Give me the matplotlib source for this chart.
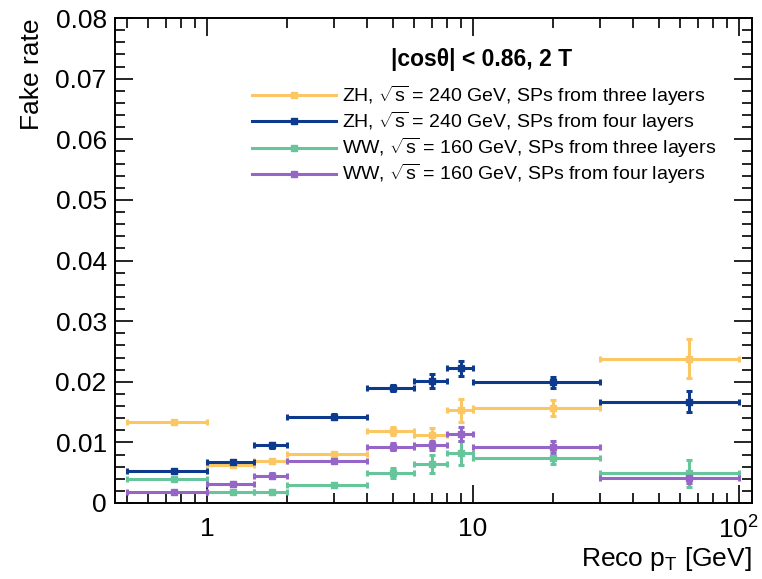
import numpy as np
import matplotlib
matplotlib.use("Agg")
import matplotlib.pyplot as plt
from matplotlib.lines import Line2D
from matplotlib.ticker import FixedLocator, FixedFormatter, MultipleLocator, LogLocator, NullFormatter

plt.rcParams['font.family'] = ['Liberation Sans', 'DejaVu Sans']
plt.rcParams['mathtext.fontset'] = 'custom'
plt.rcParams['mathtext.rm'] = 'Liberation Sans'
plt.rcParams['mathtext.it'] = 'Liberation Sans:italic'

# pT bin edges [GeV]
bin_edges = [0.5, 1, 1.5, 2, 4, 6, 8, 10, 30, 100]

# fake rate per bin and its statistical uncertainty
zh_three = [0.0133, 0.0063, 0.0070, 0.0081, 0.0119, 0.0112, 0.0153, 0.0157, 0.0238]
zh_three_err = [0.0003, 0.0003, 0.0003, 0.0003, 0.0007, 0.0012, 0.0019, 0.0013, 0.0032]
zh_four = [0.0052, 0.0068, 0.0095, 0.0142, 0.0189, 0.0201, 0.0222, 0.0199, 0.0167]
zh_four_err = [0.0003, 0.0003, 0.0004, 0.0004, 0.0005, 0.0011, 0.0012, 0.0009, 0.0017]
ww_three = [0.0040, 0.0018, 0.0018, 0.0030, 0.0050, 0.0064, 0.0082, 0.0075, 0.0049]
ww_three_err = [0.0002, 0.0002, 0.0003, 0.0003, 0.0008, 0.0015, 0.0020, 0.0010, 0.0022]
ww_four = [0.0018, 0.0031, 0.0045, 0.0070, 0.0093, 0.0095, 0.0114, 0.0093, 0.0041]
ww_four_err = [0.0002, 0.0003, 0.0004, 0.0003, 0.0006, 0.0008, 0.0011, 0.0010, 0.0008]

labels = [
    r"ZH, $\sqrt{\mathrm{s}}$ = 240 GeV, SPs from three layers",
    r"ZH, $\sqrt{\mathrm{s}}$ = 240 GeV, SPs from four layers",
    r"WW, $\sqrt{\mathrm{s}}$ = 160 GeV, SPs from three layers",
    r"WW, $\sqrt{\mathrm{s}}$ = 160 GeV, SPs from four layers",
]
colors = ["#fbc765", "#0d3a8c", "#66c59a", "#9566c8"]
series = [(zh_three, zh_three_err), (zh_four, zh_four_err),
          (ww_three, ww_three_err), (ww_four, ww_four_err)]

edges = np.array(bin_edges, dtype=float)
lo, hi = edges[:-1], edges[1:]
centers = 0.5 * (lo + hi)

fig = plt.figure(figsize=(7.62, 5.79), dpi=100)
ax = fig.add_axes([115 / 762, 1 - 503 / 579, (752 - 115) / 762, (503 - 18) / 579])

handles = []
for (vals, errs), col, lab in zip(series, colors, labels):
    ax.errorbar(centers, vals, xerr=[centers - lo, hi - centers], yerr=errs,
                fmt='s', color=col, ecolor=col, markersize=5, elinewidth=2.2,
                capsize=2.5, capthick=2.2, zorder=3)
    handles.append(Line2D([], [], color=col, lw=2.2, marker='s', markersize=5))

ax.set_xscale('log')
ax.set_xlim(0.45, 112)
ax.set_ylim(0, 0.08)

ax.xaxis.set_major_locator(FixedLocator([1, 10, 100]))
ax.xaxis.set_major_formatter(FixedFormatter(["1", "10", r"$10^2$"]))
ax.xaxis.set_minor_locator(LogLocator(base=10, subs=np.arange(2, 10)))
ax.xaxis.set_minor_formatter(NullFormatter())

ax.yaxis.set_minor_locator(MultipleLocator(0.002))
ax.set_yticks(np.arange(0, 0.081, 0.01))
ax.set_yticklabels(["0", "0.01", "0.02", "0.03", "0.04", "0.05", "0.06", "0.07", "0.08"])

ax.tick_params(which='both', direction='in', top=True, right=True, labelsize=19, width=1.2)
ax.tick_params(which='major', length=13)
ax.tick_params(axis='x', which='major', pad=10)
ax.tick_params(axis='y', which='major', pad=6)
ax.tick_params(which='minor', length=7)
for s in ax.spines.values():
    s.set_linewidth(1.4)

ax.set_xlabel(r"Reco p$_\mathrm{T}$ [GeV]", fontsize=19, loc='right', labelpad=1)
ax.set_ylabel("Fake rate", fontsize=19, loc='top', labelpad=8)

ax.text(0.575, 0.915, "|cosθ| < 0.86, 2 T", transform=ax.transAxes, ha='center',
        va='center', fontsize=16.5, fontweight='bold')

ax.legend(handles, labels, loc='upper left', bbox_to_anchor=(0.2, 0.884), frameon=False,
          fontsize=14, handlelength=4.3, handletextpad=0.3, labelspacing=0.1,
          borderpad=0)

fig.savefig("out.png", dpi=100)
